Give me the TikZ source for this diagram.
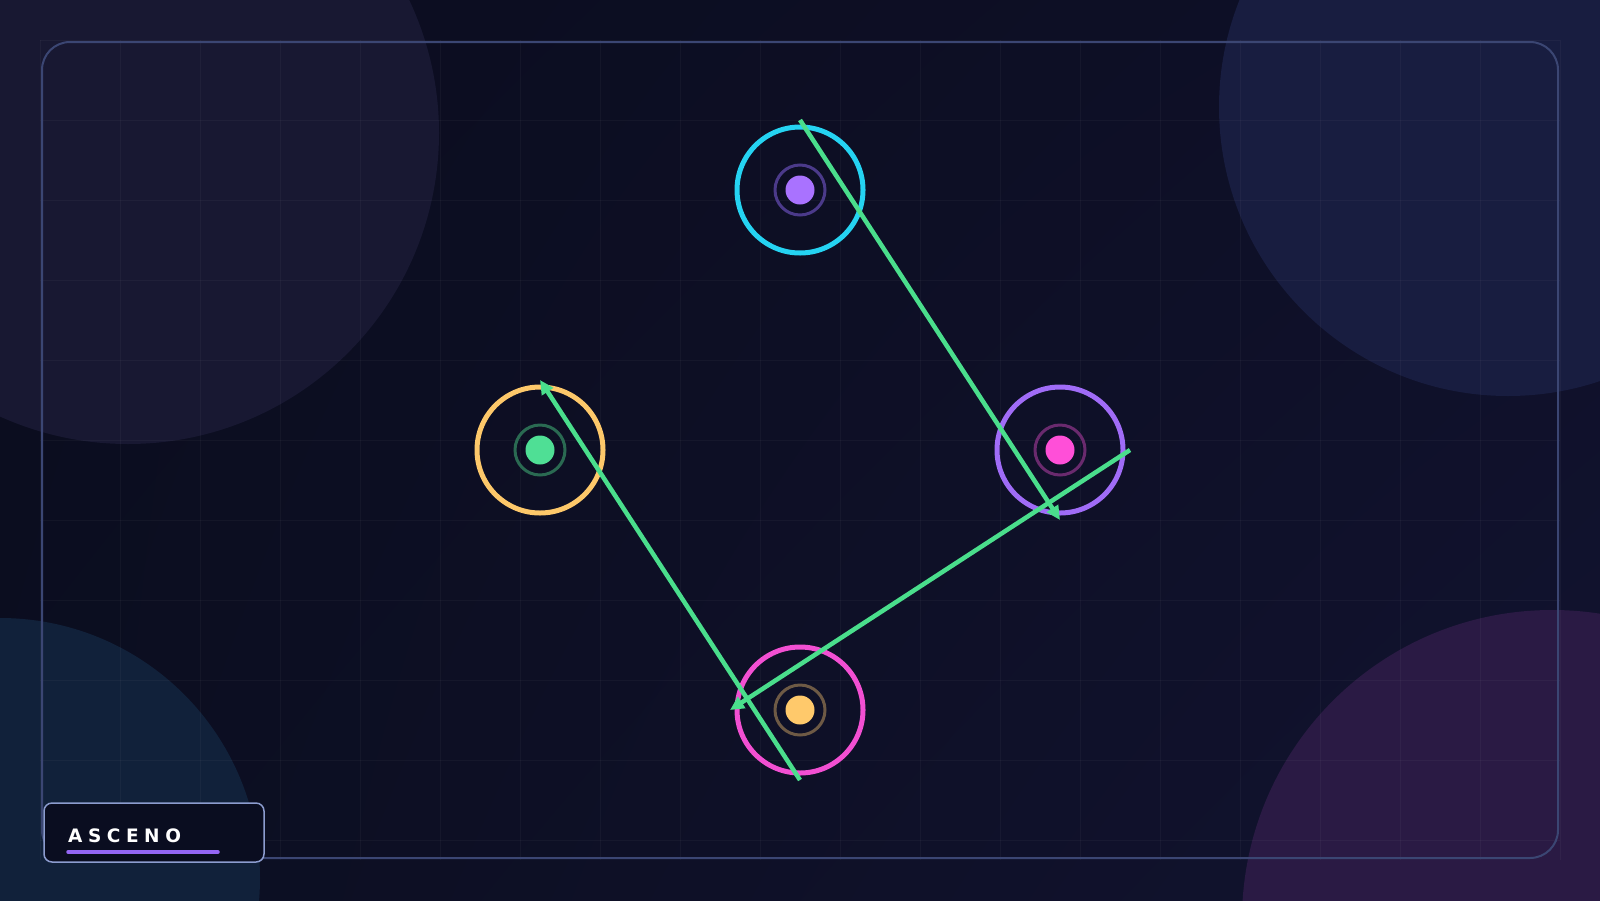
\documentclass[tikz,border=0pt]{standalone}
\usepackage{fontspec}
\setmainfont{DejaVu Sans}
\usetikzlibrary{arrows.meta,shadings}
\definecolor{bgtl}{HTML}{0B0C1E}
\definecolor{bgtr}{HTML}{0E1028}
\definecolor{bgbl}{HTML}{0B0E20}
\definecolor{bgbr}{HTML}{121330}
\definecolor{blobTL}{HTML}{181832}
\definecolor{blobTR}{HTML}{181D40}
\definecolor{blobBL}{HTML}{11213A}
\definecolor{blobBR}{HTML}{2A1A44}
\definecolor{framec}{HTML}{3B4673}
\definecolor{cyanc}{HTML}{25D3F2}
\definecolor{violetc}{HTML}{A06CF7}
\definecolor{magentac}{HTML}{F24FD2}
\definecolor{yellowc}{HTML}{FDC86A}
\definecolor{greenc}{HTML}{4FDF95}
\definecolor{dotviolet}{HTML}{A972FF}
\definecolor{dotmagenta}{HTML}{FF4FD8}
\definecolor{dotyellow}{HTML}{FFC96B}
\definecolor{edgec}{HTML}{4ADE8C}
\definecolor{haloviolet}{HTML}{4B3A8A}
\definecolor{halomagenta}{HTML}{6A2A6E}
\definecolor{haloyellow}{HTML}{6E5A45}
\definecolor{halogreen}{HTML}{2A6A52}
\definecolor{logofill}{HTML}{0A0D20}
\definecolor{logoline}{HTML}{8C9CCF}
\definecolor{barc}{HTML}{9466F5}
\tikzset{
  ring/.style={circle, minimum size=126pt, line width=5pt, outer sep=7pt, inner sep=0pt, draw=#1},
  halo/.style={circle, minimum size=50pt, line width=3pt, inner sep=0pt, draw=#1},
  core/.style={circle, minimum size=29pt, inner sep=0pt, fill=#1},
  edge/.style={draw=edgec, line width=4.5pt, -{Triangle[length=14pt,width=13pt]}},
  gridline/.style={white, opacity=0.035, line width=1pt},
}
\begin{document}
\begin{tikzpicture}[x=1pt,y=-1pt]
\useasboundingbox (0,0) rectangle (1600,900);
% background
\shade[upper left=bgtl, upper right=bgtr, lower left=bgbl, lower right=bgbr] (0,0) rectangle (1600,900);
% soft blobs
\fill[blobTL] (128,133) circle (311);
\fill[blobTR] (1508,107) circle (289);
\fill[blobBL] (0,878) circle (260);
\fill[blobBR] (1552,920) circle (310);
% grid
\foreach \gx in {40,120,...,1560} \draw[gridline] (\gx,40) -- (\gx,860);
\foreach \gy in {40,120,...,840} \draw[gridline] (40,\gy) -- (1560,\gy);
% frame
\draw[framec, line width=2pt, rounded corners=28pt] (42,42) rectangle (1558,858);
% nodes
\node[ring=cyanc] (top) at (800,190) {};
\node[halo=haloviolet] (tophalo) at (800,190) {};
\node[core=dotviolet] (topcore) at (800,190) {};
\node[ring=violetc] (right) at (1060,450) {};
\node[halo=halomagenta] (righthalo) at (1060,450) {};
\node[core=dotmagenta] (rightcore) at (1060,450) {};
\node[ring=magentac] (bottom) at (800,710) {};
\node[halo=haloyellow] (bottomhalo) at (800,710) {};
\node[core=dotyellow] (bottomcore) at (800,710) {};
\node[ring=yellowc] (left) at (540,450) {};
\node[halo=halogreen] (lefthalo) at (540,450) {};
\node[core=greenc] (leftcore) at (540,450) {};
% connectors
\draw[edge] (top.north) -- (right.south);
\draw[edge] (right.east) -- (bottom.west);
\draw[edge] (bottom.south) -- (left.north);
% logo
\draw[logoline, fill=logofill, line width=1.5pt, rounded corners=8pt] (44,803) rectangle (264,862);
\node[anchor=base west, inner sep=0pt, text=white, font={\fontsize{18.5}{18.5}\selectfont\bfseries\addfontfeature{LetterSpace=30}}] (logo) at (68,842) {ASCENO};
\coordinate (barA) at (68,852);
\coordinate (barB) at (218,852);
\draw[barc, line width=3.5pt, line cap=round] (barA) -- (barB);
\end{tikzpicture}
\end{document}
